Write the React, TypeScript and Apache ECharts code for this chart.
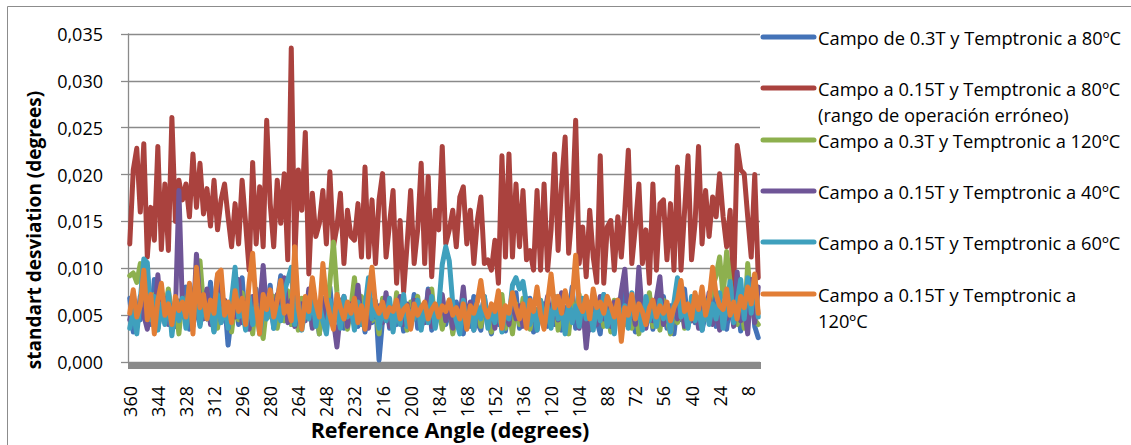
import React, { useEffect, useRef } from "react";
import * as echarts from "echarts";

// Reference angle categories: 360 down to 2, every 2 degrees
const angles: string[] = Array.from({ length: 180 }, (_, i) => String(360 - 2 * i));

const seriesNames = [
  "Campo de 0.3T y Temptronic a 80ºC",
  "Campo a 0.15T y Temptronic a 80ºC\n(rango de operación erróneo)",
  "Campo a 0.3T y Temptronic a 120ºC",
  "Campo a 0.15T y Temptronic a 40ºC",
  "Campo a 0.15T y Temptronic a 60ºC",
  "Campo a 0.15T y Temptronic a\n120ºC",
];
const seriesColors = ["#4473B8", "#AA423E", "#8DB04E", "#6F5597", "#3FA0BD", "#E27E36"];

const yTicks = [0, 0.005, 0.01, 0.015, 0.02, 0.025, 0.03, 0.035];

const blue80 = [
  0.0068, 0.0032, 0.0060, 0.0045, 0.0072, 0.0095, 0.0040, 0.0088, 0.0036, 0.0058,
  0.0042, 0.0075, 0.0050, 0.0038, 0.0065, 0.0048, 0.0080, 0.0035, 0.0062, 0.0054,
  0.0040, 0.0070, 0.0046, 0.0085, 0.0033, 0.0058, 0.0042, 0.0066, 0.0018, 0.0050,
  0.0072, 0.0040, 0.0090, 0.0038, 0.0055, 0.0045, 0.0078, 0.0034, 0.0060, 0.0048,
  0.0082, 0.0036, 0.0064, 0.0092, 0.0044, 0.0058, 0.0040, 0.0070, 0.0035, 0.0062,
  0.0048, 0.0075, 0.0038, 0.0056, 0.0030, 0.0068, 0.0045, 0.0080, 0.0040, 0.0052,
  0.0066, 0.0036, 0.0058, 0.0044, 0.0074, 0.0038, 0.0060, 0.0032, 0.0055, 0.0042,
  0.0065, 0.0002, 0.0045, 0.0070, 0.0036, 0.0058, 0.0040, 0.0062, 0.0033, 0.0054,
  0.0046, 0.0072, 0.0036, 0.0060, 0.0042, 0.0078, 0.0034, 0.0055, 0.0048, 0.0068,
  0.0040, 0.0058, 0.0032, 0.0064, 0.0045, 0.0030, 0.0056, 0.0038, 0.0070, 0.0042,
  0.0034, 0.0060, 0.0046, 0.0030, 0.0052, 0.0040, 0.0066, 0.0033, 0.0058, 0.0044,
  0.0074, 0.0036, 0.0050, 0.0042, 0.0068, 0.0032, 0.0056, 0.0045, 0.0062, 0.0038,
  0.0054, 0.0040, 0.0070, 0.0034, 0.0058, 0.0048, 0.0080, 0.0036, 0.0052, 0.0042,
  0.0066, 0.0034, 0.0060, 0.0045, 0.0030, 0.0072, 0.0040, 0.0056, 0.0036, 0.0064,
  0.0044, 0.0076, 0.0038, 0.0058, 0.0032, 0.0068, 0.0046, 0.0040, 0.0062, 0.0035,
  0.0055, 0.0042, 0.0070, 0.0036, 0.0060, 0.0030, 0.0064, 0.0045, 0.0078, 0.0038,
  0.0058, 0.0042, 0.0068, 0.0034, 0.0052, 0.0046, 0.0072, 0.0038, 0.0060, 0.0044,
  0.0035, 0.0066, 0.0040, 0.0074, 0.0033, 0.0058, 0.0045, 0.0082, 0.0038, 0.0026,
];

const red80 = [
  0.0126, 0.0205, 0.0228, 0.0160, 0.0233, 0.0112, 0.0165, 0.0130, 0.0230, 0.0120,
  0.0190, 0.0119, 0.0261, 0.0150, 0.0194, 0.0173, 0.0190, 0.0155, 0.0222, 0.0165,
  0.0212, 0.0158, 0.0185, 0.0145, 0.0194, 0.0141, 0.0173, 0.0190, 0.0155, 0.0123,
  0.0169, 0.0126, 0.0194, 0.0148, 0.0098, 0.0213, 0.0126, 0.0187, 0.0123, 0.0258,
  0.0169, 0.0123, 0.0194, 0.0148, 0.0201, 0.0109, 0.0335, 0.0109, 0.0205, 0.0162,
  0.0245, 0.0094, 0.0180, 0.0134, 0.0148, 0.0183, 0.0126, 0.0203, 0.0123, 0.0144,
  0.0180, 0.0105, 0.0162, 0.0134, 0.0130, 0.0169, 0.0112, 0.0208, 0.0112, 0.0173,
  0.0105, 0.0173, 0.0201, 0.0112, 0.0148, 0.0183, 0.0084, 0.0151, 0.0075, 0.0126,
  0.0183, 0.0105, 0.0141, 0.0212, 0.0105, 0.0198, 0.0091, 0.0162, 0.0141, 0.0230,
  0.0126, 0.0141, 0.0162, 0.0123, 0.0176, 0.0187, 0.0126, 0.0162, 0.0105, 0.0151,
  0.0176, 0.0105, 0.0109, 0.0098, 0.0130, 0.0084, 0.0220, 0.0112, 0.0222, 0.0112,
  0.0190, 0.0123, 0.0183, 0.0109, 0.0119, 0.0098, 0.0183, 0.0098, 0.0190, 0.0098,
  0.0141, 0.0222, 0.0119, 0.0190, 0.0240, 0.0116, 0.0162, 0.0258, 0.0105, 0.0144,
  0.0091, 0.0162, 0.0112, 0.0085, 0.0220, 0.0084, 0.0144, 0.0151, 0.0098, 0.0155,
  0.0112, 0.0162, 0.0226, 0.0105, 0.0144, 0.0190, 0.0105, 0.0141, 0.0084, 0.0190,
  0.0098, 0.0169, 0.0173, 0.0109, 0.0169, 0.0098, 0.0208, 0.0098, 0.0160, 0.0220,
  0.0109, 0.0148, 0.0230, 0.0126, 0.0183, 0.0134, 0.0176, 0.0155, 0.0201, 0.0155,
  0.0123, 0.0162, 0.0075, 0.0231, 0.0205, 0.0201, 0.0155, 0.0112, 0.0200, 0.0090,
];

const green120 = [
  0.0092, 0.0095, 0.0085, 0.0105, 0.0060, 0.0088, 0.0045, 0.0072, 0.0035, 0.0066,
  0.0050, 0.0078, 0.0040, 0.0062, 0.0030, 0.0070, 0.0046, 0.0082, 0.0055, 0.0096,
  0.0108, 0.0060, 0.0076, 0.0042, 0.0064, 0.0036, 0.0070, 0.0048, 0.0058, 0.0032,
  0.0062, 0.0045, 0.0074, 0.0038, 0.0056, 0.0030, 0.0066, 0.0042, 0.0025, 0.0060,
  0.0048, 0.0070, 0.0036, 0.0058, 0.0044, 0.0076, 0.0040, 0.0062, 0.0034, 0.0068,
  0.0046, 0.0072, 0.0038, 0.0058, 0.0030, 0.0064, 0.0050, 0.0085, 0.0128, 0.0075,
  0.0042, 0.0062, 0.0035, 0.0058, 0.0090, 0.0048, 0.0070, 0.0036, 0.0060, 0.0044,
  0.0056, 0.0030, 0.0068, 0.0046, 0.0062, 0.0036, 0.0074, 0.0042, 0.0058, 0.0034,
  0.0064, 0.0048, 0.0070, 0.0038, 0.0056, 0.0044, 0.0078, 0.0040, 0.0060, 0.0035,
  0.0052, 0.0066, 0.0030, 0.0058, 0.0045, 0.0070, 0.0036, 0.0062, 0.0042, 0.0055,
  0.0038, 0.0064, 0.0046, 0.0032, 0.0060, 0.0044, 0.0072, 0.0036, 0.0056, 0.0030,
  0.0062, 0.0040, 0.0068, 0.0046, 0.0035, 0.0058, 0.0042, 0.0066, 0.0038, 0.0054,
  0.0046, 0.0070, 0.0034, 0.0060, 0.0044, 0.0030, 0.0064, 0.0050, 0.0072, 0.0040,
  0.0056, 0.0036, 0.0062, 0.0044, 0.0068, 0.0038, 0.0058, 0.0032, 0.0066, 0.0046,
  0.0054, 0.0040, 0.0070, 0.0036, 0.0062, 0.0030, 0.0058, 0.0044, 0.0074, 0.0038,
  0.0060, 0.0034, 0.0066, 0.0046, 0.0030, 0.0056, 0.0042, 0.0068, 0.0036, 0.0060,
  0.0044, 0.0064, 0.0038, 0.0070, 0.0046, 0.0058, 0.0080, 0.0092, 0.0112, 0.0070,
  0.0118, 0.0085, 0.0060, 0.0040, 0.0066, 0.0036, 0.0105, 0.0062, 0.0045, 0.0040,
];

const purple40 = [
  0.0045, 0.0062, 0.0038, 0.0070, 0.0050, 0.0035, 0.0064, 0.0042, 0.0093, 0.0048,
  0.0068, 0.0040, 0.0060, 0.0052, 0.0183, 0.0058, 0.0044, 0.0072, 0.0038, 0.0115,
  0.0062, 0.0046, 0.0078, 0.0040, 0.0058, 0.0092, 0.0044, 0.0066, 0.0036, 0.0060,
  0.0048, 0.0088, 0.0042, 0.0064, 0.0035, 0.0070, 0.0046, 0.0058, 0.0103, 0.0052,
  0.0060, 0.0040, 0.0072, 0.0048, 0.0090, 0.0042, 0.0066, 0.0038, 0.0056, 0.0062,
  0.0044, 0.0078, 0.0036, 0.0060, 0.0050, 0.0066, 0.0040, 0.0058, 0.0045, 0.0016,
  0.0052, 0.0070, 0.0038, 0.0062, 0.0046, 0.0082, 0.0040, 0.0058, 0.0036, 0.0066,
  0.0048, 0.0060, 0.0042, 0.0074, 0.0038, 0.0056, 0.0046, 0.0070, 0.0040, 0.0062,
  0.0036, 0.0066, 0.0048, 0.0058, 0.0042, 0.0076, 0.0038, 0.0060, 0.0050, 0.0072,
  0.0044, 0.0062, 0.0036, 0.0058, 0.0046, 0.0080, 0.0040, 0.0064, 0.0034, 0.0056,
  0.0048, 0.0070, 0.0042, 0.0060, 0.0036, 0.0066, 0.0044, 0.0058, 0.0040, 0.0072,
  0.0046, 0.0060, 0.0038, 0.0068, 0.0044, 0.0056, 0.0034, 0.0062, 0.0048, 0.0070,
  0.0040, 0.0058, 0.0045, 0.0074, 0.0038, 0.0062, 0.0046, 0.0056, 0.0036, 0.0060,
  0.0015, 0.0052, 0.0066, 0.0040, 0.0070, 0.0046, 0.0058, 0.0038, 0.0064, 0.0048,
  0.0075, 0.0099, 0.0044, 0.0062, 0.0040, 0.0101, 0.0050, 0.0036, 0.0060, 0.0044,
  0.0068, 0.0091, 0.0040, 0.0056, 0.0034, 0.0062, 0.0046, 0.0070, 0.0038, 0.0058,
  0.0044, 0.0066, 0.0036, 0.0060, 0.0048, 0.0074, 0.0040, 0.0056, 0.0034, 0.0062,
  0.0046, 0.0070, 0.0038, 0.0096, 0.0044, 0.0060, 0.0030, 0.0088, 0.0042, 0.0080,
];

const cyan60 = [
  0.0036, 0.0055, 0.0030, 0.0066, 0.0110, 0.0106, 0.0045, 0.0070, 0.0034, 0.0062,
  0.0040, 0.0074, 0.0028, 0.0060, 0.0044, 0.0068, 0.0036, 0.0058, 0.0048, 0.0080,
  0.0038, 0.0064, 0.0046, 0.0056, 0.0032, 0.0072, 0.0042, 0.0060, 0.0036, 0.0066,
  0.0101, 0.0048, 0.0058, 0.0034, 0.0070, 0.0040, 0.0062, 0.0030, 0.0054, 0.0046,
  0.0068, 0.0036, 0.0060, 0.0044, 0.0074, 0.0088, 0.0101, 0.0040, 0.0064, 0.0034,
  0.0058, 0.0046, 0.0072, 0.0038, 0.0062, 0.0044, 0.0030, 0.0066, 0.0042, 0.0056,
  0.0036, 0.0070, 0.0048, 0.0060, 0.0034, 0.0064, 0.0040, 0.0058, 0.0090, 0.0046,
  0.0062, 0.0036, 0.0056, 0.0044, 0.0068, 0.0032, 0.0060, 0.0040, 0.0072, 0.0038,
  0.0054, 0.0046, 0.0066, 0.0034, 0.0060, 0.0042, 0.0070, 0.0036, 0.0058, 0.0104,
  0.0123, 0.0108, 0.0062, 0.0044, 0.0030, 0.0066, 0.0040, 0.0056, 0.0034, 0.0060,
  0.0046, 0.0070, 0.0036, 0.0058, 0.0042, 0.0064, 0.0032, 0.0056, 0.0046, 0.0082,
  0.0090, 0.0078, 0.0086, 0.0062, 0.0040, 0.0058, 0.0034, 0.0066, 0.0044, 0.0060,
  0.0036, 0.0070, 0.0046, 0.0056, 0.0030, 0.0064, 0.0042, 0.0060, 0.0038, 0.0068,
  0.0046, 0.0058, 0.0034, 0.0062, 0.0044, 0.0072, 0.0038, 0.0056, 0.0030, 0.0066,
  0.0042, 0.0060, 0.0036, 0.0074, 0.0046, 0.0058, 0.0034, 0.0070, 0.0044, 0.0062,
  0.0038, 0.0066, 0.0046, 0.0056, 0.0032, 0.0064, 0.0090, 0.0048, 0.0060, 0.0036,
  0.0070, 0.0044, 0.0058, 0.0034, 0.0066, 0.0040, 0.0062, 0.0046, 0.0074, 0.0036,
  0.0060, 0.0086, 0.0042, 0.0064, 0.0088, 0.0046, 0.0090, 0.0052, 0.0093, 0.0048,
];

const orange120 = [
  0.0052, 0.0077, 0.0048, 0.0060, 0.0098, 0.0045, 0.0072, 0.0030, 0.0066, 0.0084,
  0.0050, 0.0062, 0.0040, 0.0070, 0.0055, 0.0064, 0.0048, 0.0084, 0.0030, 0.0101,
  0.0058, 0.0072, 0.0046, 0.0066, 0.0052, 0.0094, 0.0098, 0.0050, 0.0064, 0.0042,
  0.0076, 0.0054, 0.0068, 0.0040, 0.0084, 0.0116, 0.0060, 0.0030, 0.0072, 0.0056,
  0.0077, 0.0048, 0.0066, 0.0087, 0.0052, 0.0060, 0.0044, 0.0123, 0.0058, 0.0035,
  0.0070, 0.0054, 0.0090, 0.0062, 0.0048, 0.0105, 0.0066, 0.0050, 0.0035, 0.0072,
  0.0058, 0.0046, 0.0064, 0.0052, 0.0068, 0.0042, 0.0060, 0.0035, 0.0072, 0.0101,
  0.0060, 0.0052, 0.0064, 0.0048, 0.0058, 0.0054, 0.0066, 0.0046, 0.0056, 0.0060,
  0.0035, 0.0062, 0.0050, 0.0058, 0.0064, 0.0046, 0.0056, 0.0062, 0.0048, 0.0060,
  0.0054, 0.0066, 0.0050, 0.0058, 0.0046, 0.0062, 0.0035, 0.0060, 0.0052, 0.0064,
  0.0087, 0.0058, 0.0048, 0.0062, 0.0054, 0.0076, 0.0036, 0.0060, 0.0052, 0.0074,
  0.0058, 0.0046, 0.0062, 0.0036, 0.0066, 0.0054, 0.0080, 0.0050, 0.0035, 0.0064,
  0.0094, 0.0058, 0.0070, 0.0052, 0.0076, 0.0060, 0.0066, 0.0114, 0.0062, 0.0054,
  0.0070, 0.0046, 0.0078, 0.0058, 0.0064, 0.0052, 0.0070, 0.0060, 0.0048, 0.0066,
  0.0022, 0.0058, 0.0050, 0.0072, 0.0046, 0.0062, 0.0054, 0.0040, 0.0058, 0.0066,
  0.0048, 0.0060, 0.0052, 0.0064, 0.0044, 0.0058, 0.0066, 0.0087, 0.0054, 0.0062,
  0.0046, 0.0074, 0.0056, 0.0080, 0.0050, 0.0066, 0.0101, 0.0072, 0.0060, 0.0056,
  0.0078, 0.0050, 0.0064, 0.0046, 0.0070, 0.0058, 0.0080, 0.0062, 0.0094, 0.0052,
];

const seriesData = [blue80, red80, green120, purple40, cyan60, orange120];

const FONT = "'Open Sans', Lato, sans-serif";
const GRID = { left: 128, top: 34, right: 760, bottom: 362 };
const LEGEND_ROWS = [37, 88, 140, 191, 242, 294];

export default function App() {
  const ref = useRef<HTMLDivElement>(null);

  useEffect(() => {
    if (!ref.current) return;
    const chart = echarts.init(ref.current, undefined, { renderer: "svg" });

    const legendGraphics: any[] = [];
    seriesNames.forEach((name, k) => {
      const cy = LEGEND_ROWS[k];
      legendGraphics.push({
        type: "line",
        shape: { x1: 763, y1: cy, x2: 814, y2: cy },
        style: { stroke: seriesColors[k], lineWidth: 5, lineCap: "round" },
        z: 10,
      });
      legendGraphics.push({
        type: "text",
        x: 818,
        y: cy - 13,
        style: {
          text: name,
          fontSize: 18.3,
          fontFamily: FONT,
          fill: "#000",
          align: "left",
          verticalAlign: "top",
          lineHeight: 26,
        },
        z: 10,
      });
    });

    chart.setOption({
      animation: false,
      backgroundColor: "#fff",
      grid: {
        left: GRID.left,
        top: GRID.top,
        right: 1131 - GRID.right,
        bottom: 445 - GRID.bottom,
        containLabel: false,
      },
      xAxis: {
        type: "category",
        data: angles,
        boundaryGap: true,
        axisLine: { show: false },
        axisTick: { show: false },
        axisLabel: {
          interval: 7,
          rotate: 90,
          margin: 24,
          fontSize: 18,
          fontFamily: FONT,
          color: "#000",
        },
        splitLine: { show: false },
      },
      yAxis: {
        type: "value",
        min: yTicks[0],
        max: yTicks[yTicks.length - 1],
        interval: 0.005,
        axisLine: { show: true, lineStyle: { color: "#8a8a8a", width: 1.3 } },
        axisTick: { show: true, inside: false, length: 7, lineStyle: { color: "#8a8a8a", width: 1.3 } },
        axisLabel: {
          margin: 25,
          fontSize: 18,
          fontFamily: FONT,
          color: "#000",
          formatter: (v: number) => v.toFixed(3).replace(".", ","),
        },
        splitLine: { show: true, lineStyle: { color: "#8a8a8a", width: 1.3 } },
      },
      graphic: [
        {
          type: "rect",
          shape: { x: 7.5, y: 6.5, width: 1300, height: 600 },
          style: { fill: "none", stroke: "#8c8c8c", lineWidth: 1 },
          z: -1,
          silent: true,
        },
        {
          type: "rect",
          shape: { x: GRID.left, y: GRID.bottom, width: GRID.right - GRID.left + 1, height: 7 },
          style: { fill: "#8a8a8a" },
          z: 0,
        },
        {
          type: "text",
          x: 34,
          y: 230,
          rotation: Math.PI / 2,
          style: {
            text: "standart desviation (degrees)",
            fontSize: 19,
            fontWeight: "bold",
            fontFamily: FONT,
            fill: "#000",
            align: "center",
            verticalAlign: "middle",
          },
        },
        {
          type: "text",
          x: 450,
          y: 429,
          style: {
            text: "Reference Angle (degrees)",
            fontSize: 21.5,
            fontWeight: "bold",
            fontFamily: FONT,
            fill: "#000",
            align: "center",
            verticalAlign: "middle",
          },
        },
        ...legendGraphics,
      ],
      series: seriesData.map((data, k) => ({
        name: seriesNames[k],
        type: "line",
        data,
        showSymbol: false,
        symbol: "none",
        smooth: false,
        z: 2 + k,
        lineStyle: { color: seriesColors[k], width: 5, join: "round", cap: "round" },
        itemStyle: { color: seriesColors[k] },
      })),
    });

    return () => chart.dispose();
  }, []);

  return (
    <div
      ref={ref}
      style={{ position: "absolute", left: 0, top: 0, width: 1131, height: 445 }}
    />
  );
}
